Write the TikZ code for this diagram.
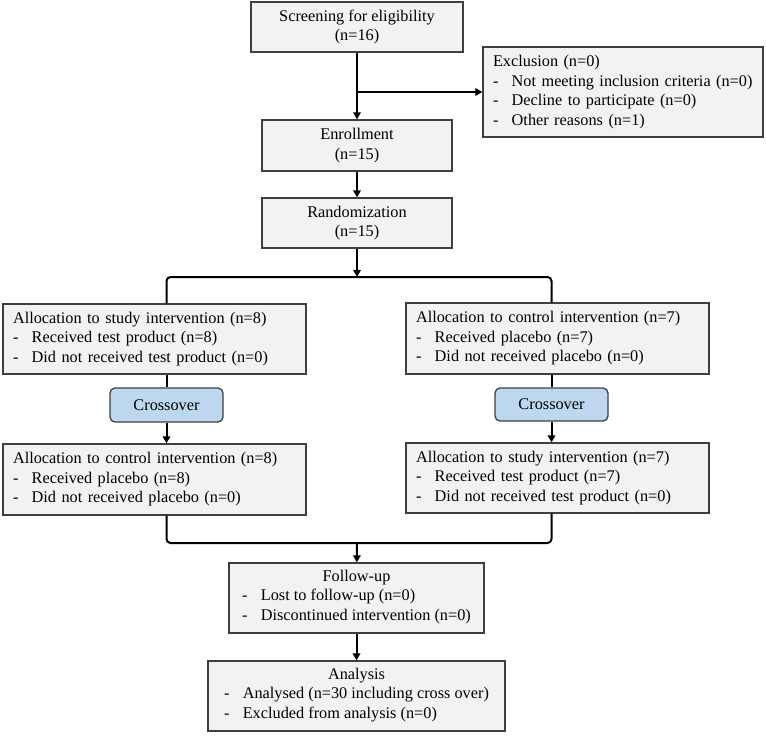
\documentclass[tikz,border=0pt]{standalone}
\usepackage{fontspec}
\setmainfont{Liberation Serif}
\usetikzlibrary{positioning}
\usetikzlibrary{arrows.meta}
\definecolor{box-gray}{HTML}{F2F2F2}
\definecolor{box-border}{HTML}{3F3F3F}
\definecolor{crossover-blue}{HTML}{BDD7EE}
\newlength{\basisp}
\setlength{\basisp}{0.03cm}
\newcommand{\dashitem}[1]{\makebox[1.15em][l]{-}#1}

\begin{document}
\begin{tikzpicture}[font=\fontsize{13.9}{16.6}\selectfont,
    box/.style={draw=box-border, line width=1.3\basisp, fill=box-gray, inner xsep=10\basisp, inner ysep=2\basisp},
    leftbox/.style={box, align=left},
    centerbox/.style={box, align=center},
    crossbox/.style={draw=box-border, line width=1.3\basisp, fill=crossover-blue, rounded corners=5\basisp, align=center},
    flow/.style={line width=2\basisp, color=black},
    flowarrow/.style={flow, -{Triangle[length=6pt,width=6.4pt]}}]
    \useasboundingbox (0,0) rectangle (766\basisp,-735\basisp);

    \draw (357\basisp,-27\basisp)
		node[centerbox, minimum width=212\basisp, minimum height=50\basisp]
			(Screening) {Screening for eligibility\\(n=16)};
    \draw (623\basisp,-92\basisp)
		node[leftbox, text width=260\basisp, minimum height=90\basisp]
			(Exclusion) {Exclusion (n=0)\\\dashitem{Not meeting inclusion criteria (n=0)}\\\dashitem{Decline to participate (n=0)}\\\dashitem{Other reasons (n=1)}};
    \draw (357\basisp,-145.5\basisp)
		node[centerbox, minimum width=190\basisp, minimum height=51\basisp]
			(Enrollment) {Enrollment\\(n=15)};
    \draw (357\basisp,-223\basisp)
		node[centerbox, minimum width=190\basisp, minimum height=50\basisp]
			(Randomization) {Randomization\\(n=15)};

    \draw (154.5\basisp,-339\basisp)
		node[leftbox, text width=283\basisp, minimum height=70\basisp]
			(AllocationLeft1) {Allocation to study intervention (n=8)\\\dashitem{Received test product (n=8)}\\\dashitem{Did not received test product (n=0)}};
    \draw (166.5\basisp,-405\basisp)
		node[crossbox, minimum width=113\basisp, minimum height=34\basisp]
			(CrossoverLeft) {Crossover};
    \draw (154.5\basisp,-479.5\basisp)
		node[leftbox, text width=283\basisp, minimum height=71\basisp]
			(AllocationLeft2) {Allocation to control intervention (n=8)\\\dashitem{Received placebo (n=8)}\\\dashitem{Did not received placebo (n=0)}};

    \draw (557.5\basisp,-338.5\basisp)
		node[leftbox, text width=283\basisp, minimum height=71\basisp]
			(AllocationRight1) {Allocation to control intervention (n=7)\\\dashitem{Received placebo (n=7)}\\\dashitem{Did not received placebo (n=0)}};
    \draw (551.5\basisp,-404.5\basisp)
		node[crossbox, minimum width=113\basisp, minimum height=33\basisp]
			(CrossoverRight) {Crossover};
    \draw (557.5\basisp,-478\basisp)
		node[leftbox, text width=283\basisp, minimum height=70\basisp]
			(AllocationRight2) {Allocation to study intervention (n=7)\\\dashitem{Received test product (n=7)}\\\dashitem{Did not received test product (n=0)}};

    \draw (356.5\basisp,-598\basisp)
		node[centerbox, minimum width=255\basisp, minimum height=70\basisp]
			(FollowUp) {Follow-up\\\begin{tabular}[t]{@{}l@{}}\dashitem{Lost to follow-up (n=0)}\\\dashitem{Discontinued intervention (n=0)}\end{tabular}};
    \draw (356.5\basisp,-696\basisp)
		node[centerbox, minimum width=297\basisp, minimum height=70\basisp]
			(Analysis) {Analysis\\\begin{tabular}[t]{@{}l@{}}\dashitem{Analysed (n=30 including cross over)}\\\dashitem{Excluded from analysis (n=0)}\end{tabular}};

    % screening and exclusion
    \coordinate (ExclusionBranch) at (Screening.south |- Exclusion.west);
	\draw[flowarrow] (Screening) -- (Enrollment);
	\draw[flowarrow] (ExclusionBranch) -- (Exclusion.west);
	\draw[flowarrow] (Enrollment) -- (Randomization);

    % split into the two arms
    \coordinate (Split) at (357\basisp,-277\basisp);
    \coordinate (SplitLeft) at (CrossoverLeft |- Split);
    \coordinate (SplitRight) at (CrossoverRight |- Split);
	\draw[flowarrow] (Randomization) -- (Split);
	\draw[flow, rounded corners=4\basisp] (AllocationLeft1.north -| SplitLeft) -- (SplitLeft) -- (SplitRight) -- (AllocationRight1.north -| SplitRight);

    % crossover
	\draw[flow] (AllocationLeft1.south -| CrossoverLeft) -- (CrossoverLeft);
	\draw[flowarrow] (CrossoverLeft) -- (AllocationLeft2.north -| CrossoverLeft);
	\draw[flow] (AllocationRight1.south -| CrossoverRight) -- (CrossoverRight);
	\draw[flowarrow] (CrossoverRight) -- (AllocationRight2.north -| CrossoverRight);

    % merge and follow-up
    \coordinate (Merge) at (357\basisp,-543\basisp);
	\draw[flow, rounded corners=4\basisp] (AllocationLeft2.south -| CrossoverLeft) |- (Merge) -| (AllocationRight2.south -| CrossoverRight);
	\draw[flowarrow] (Merge) -- (FollowUp);
	\draw[flowarrow] (FollowUp) -- (Analysis);
\end{tikzpicture}
\end{document}
